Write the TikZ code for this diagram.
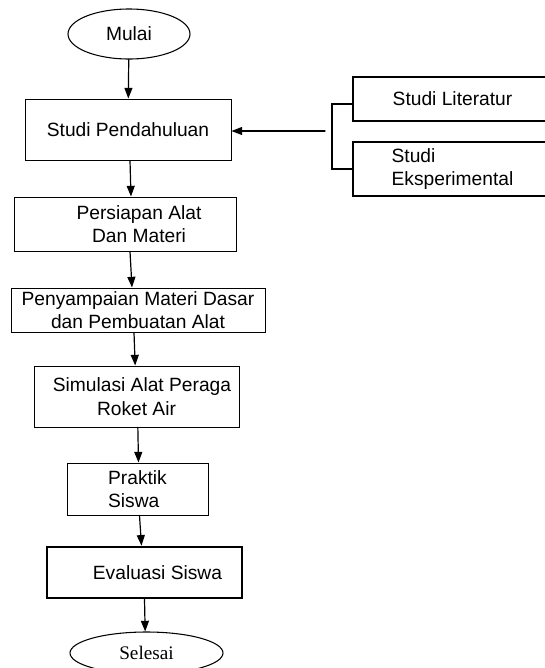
\documentclass[tikz,border=0pt]{standalone}
\usepackage{fontspec}
\setmainfont{Liberation Sans}
\newfontfamily\timesfont{Liberation Serif}
\usetikzlibrary{arrows.meta,shapes.geometric}

\begin{document}
\begin{tikzpicture}[x=0.75pt,y=-0.75pt,line cap=round,>={Triangle[length=8pt,width=6pt]},
    kotak/.style={draw,line width=0.75pt,inner sep=1pt,font=\fontsize{14.4}{17.5}\selectfont,align=center},
    kotaktebal/.style={kotak,line width=1.9pt},
    oval/.style={draw,ellipse,line width=0.8pt,inner sep=0pt,font=\fontsize{14.4}{17.5}\selectfont},
    panah/.style={->,line width=0.9pt}]
    \useasboundingbox (0,0) rectangle (544,668);
    % alur utama
    \node[oval,minimum width=91.5pt,minimum height=37.5pt] (mulai) at (129,34) {Mulai};
    \node[kotak,minimum width=154.5pt,minimum height=45.75pt] (pendahuluan) at (128,129.5) {Studi Pendahuluan};
    \node[kotak,minimum width=166.5pt,minimum height=40.5pt] (persiapan) at (125,224) {\hspace*{21pt}Persiapan Alat\\\hspace*{21pt}Dan Materi};
    \node[kotak,minimum width=190.5pt,minimum height=33pt] (penyampaian) at (138,310) {Penyampaian Materi Dasar\\dan Pembuatan Alat};
    \node[kotak,minimum width=153.75pt,minimum height=45.75pt] (simulasi) at (136.5,396.5) {\hspace*{8.25pt}Simulasi Alat Peraga\\Roket Air};
    \node[kotak,align=left,minimum width=105.75pt,minimum height=39pt] (praktik) at (137.5,489) {Praktik\\Siswa};
    \node[kotaktebal,minimum width=146.25pt,minimum height=38.25pt] (evaluasi) at (144.5,572.5) {\hspace*{19.5pt}Evaluasi Siswa};
    \node[oval,minimum width=114.75pt,minimum height=31.5pt,font=\fontsize{14.4}{17.5}\timesfont] (selesai) at (146.5,653) {Selesai};
    % studi pendukung
    \node[kotaktebal,minimum width=149.25pt,minimum height=33pt] (literatur) at (452.5,99) {Studi Literatur};
    \node[kotaktebal,align=left,minimum width=149.25pt,minimum height=40.5pt] (eksperimental) at (452.5,169) {Studi\\Eksperimental};
    \coordinate (cabang) at (325,131);
    \coordinate (siku) at (332,104);
    \draw[line width=1.3pt] ([yshift=-3.75pt]literatur.west) -- (siku) -- (siku |- eksperimental.west) -- (eksperimental.west);
    \draw[panah] (cabang) -- (cabang -| pendahuluan.east);
    % panah
    \draw[panah] (mulai) -- (pendahuluan);
    \draw[panah] ([xshift=1.5pt]pendahuluan.south) -- ([xshift=4.5pt]persiapan.north);
    \draw[panah] ([xshift=3.75pt]persiapan.south) -- ([xshift=-4.5pt]penyampaian.north);
    \draw[panah] ([xshift=-3pt]penyampaian.south) -- ([xshift=-1pt]simulasi.north);
    \draw[panah] ([xshift=1pt]simulasi.south) -- ([xshift=0.75pt]praktik.north);
    \draw[panah] ([xshift=1.5pt]praktik.south) -- ([xshift=-2.25pt]evaluasi.north);
    \draw[panah] (evaluasi.south) -- ([xshift=-1pt]selesai.north);
\end{tikzpicture}
\end{document}
